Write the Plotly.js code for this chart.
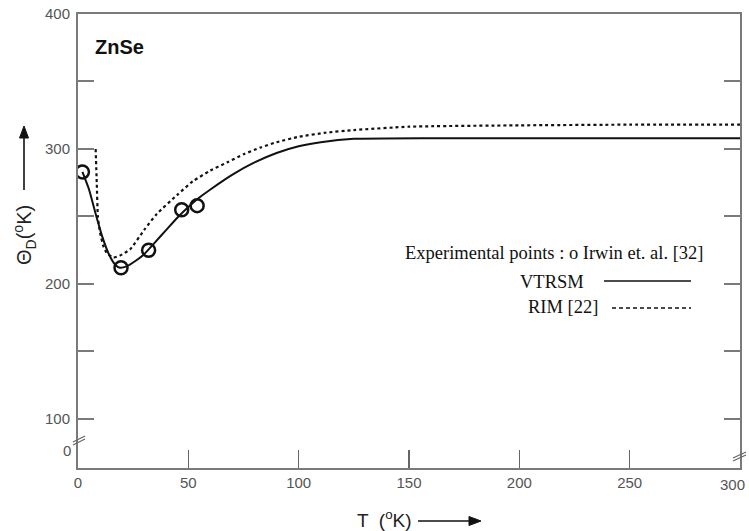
<!DOCTYPE html>
<html>
<head>
<meta charset="utf-8">
<script src="https://cdn.plot.ly/plotly-3.0.1.min.js"></script>
<style>html,body{margin:0;padding:0;background:#fff;}#chart{width:749px;height:531px;}</style>
</head>
<body>
<div id="chart"></div>
<script>
// Experimental points (Irwin et al.)
var expT = [2, 19.5, 32, 47, 54];
var expTheta = [283, 212, 225, 255, 258];

// VTRSM (solid)
var vtrsmT = [2, 5, 8, 11, 14, 17, 19, 22, 26, 30, 35, 40, 45, 50, 55, 60, 70, 80, 90, 100, 110, 125, 160, 200, 250, 300];
var vtrsmTheta = [283, 270, 252, 235, 222, 214, 212, 213, 217, 222, 231, 240, 249, 257, 264, 270, 281, 290, 297, 302, 305, 307.5, 308, 308, 308, 308];

// RIM [22] (dashed)
var rimT = [8, 8.5, 9, 10, 11.5, 13, 16, 19, 23.6, 30, 35.6, 45, 52, 60, 67.5, 75, 82.5, 90, 100, 112, 125, 150, 200, 250, 300];
var rimTheta = [300, 275, 250, 238, 228, 223, 219.5, 221, 225.6, 240, 251.7, 266, 276, 284, 290, 296, 301, 305, 309, 312, 314, 316.5, 317.5, 318, 318];

var xTickVals = [0, 50, 100, 150, 200, 250];
var xLastTick = 300;
var yTickVals = [100, 200, 300, 400];

var W = 749, H = 531, L = 78, R = 9, T = 14, B = 63;
var pw = W - L - R, ph = H - T - B;
function px(x) { return (x - L) / pw; }
function py(y) { return (H - B - y) / ph; }

var traces = [
  {x: vtrsmT, y: vtrsmTheta, mode: 'lines', line: {color: '#111', width: 2, shape: 'spline', smoothing: 0.5}, hoverinfo: 'skip'},
  {x: rimT, y: rimTheta, mode: 'lines', line: {color: '#111', width: 2.2, dash: '3px,3px', shape: 'spline', smoothing: 0.5}, hoverinfo: 'skip'},
  {x: expT, y: expTheta, mode: 'markers', marker: {symbol: 'circle-open', size: 13, color: '#111', line: {width: 2.5, color: '#111'}}, hoverinfo: 'skip'}
];

var axisCol = '#7a7a7a';
var tickFont = {family: 'Liberation Sans, Arial, sans-serif', size: 15, color: '#555'};
var serif = {family: 'Liberation Serif, Times New Roman, serif', size: 18.5, color: '#111'};
var layout = {
  width: W, height: H,
  margin: {l: L, r: R, t: T, b: B},
  paper_bgcolor: '#fff', plot_bgcolor: '#fff',
  showlegend: false,
  xaxis: {
    range: [0, 300], tickvals: xTickVals.concat([xLastTick]), ticktext: xTickVals.map(String).concat(['']),
    ticks: 'inside', ticklen: 18, tickwidth: 1.5, tickcolor: '#666',
    showline: true, linecolor: axisCol, linewidth: 2, mirror: true, showgrid: false, zeroline: false,
    tickfont: tickFont
  },
  yaxis: {
    range: [63.6, 400], tickvals: yTickVals, ticks: 'inside', ticklen: 16, tickwidth: 2, tickcolor: axisCol,
    minor: {tickvals: [150, 250, 350], ticks: 'inside', ticklen: 16, tickwidth: 2, tickcolor: axisCol},
    showline: true, linecolor: axisCol, linewidth: 2, mirror: 'ticks', showgrid: false, zeroline: false,
    ticklabelstandoff: 3,
    tickfont: tickFont
  },
  annotations: [
    {xref: 'x', yref: 'paper', x: xLastTick, y: py(484), xanchor: 'center', yanchor: 'middle', xshift: -8, showarrow: false,
     text: String(xLastTick), font: tickFont},
    {xref: 'paper', yref: 'paper', x: px(93), y: py(47), xanchor: 'left', yanchor: 'middle', showarrow: false,
     text: '<b>ZnSe</b>', font: {family: 'Liberation Sans, Arial, sans-serif', size: 20, color: '#111'}},
    {xref: 'paper', yref: 'paper', x: px(73), y: py(450), xanchor: 'right', yanchor: 'middle', showarrow: false,
     text: '0', font: tickFont},
    {xref: 'paper', yref: 'paper', x: px(554), y: py(253), xanchor: 'center', yanchor: 'middle', showarrow: false,
     text: 'Experimental points : o Irwin et. al. [32]', font: serif},
    {xref: 'paper', yref: 'paper', x: px(586), y: py(282), xanchor: 'right', yanchor: 'middle', showarrow: false,
     text: 'VTRSM', font: serif},
    {xref: 'paper', yref: 'paper', x: px(600), y: py(307), xanchor: 'right', yanchor: 'middle', showarrow: false,
     text: 'RIM [22]', font: serif},
    {xref: 'paper', yref: 'paper', x: px(24), y: py(235), xanchor: 'center', yanchor: 'middle', showarrow: false, textangle: -90,
     text: 'Θ<sub>D</sub>(<sup>o</sup>K)', font: {family: 'Liberation Sans, Arial, sans-serif', size: 20, color: '#222'}},
    {xref: 'paper', yref: 'paper', x: px(384), y: py(519), xanchor: 'center', yanchor: 'middle', showarrow: false,
     text: 'T  (<sup>o</sup>K)', font: {family: 'Liberation Sans, Arial, sans-serif', size: 19, color: '#222'}}
  ],
  shapes: [
    // y-title arrow
    {type: 'line', xref: 'paper', yref: 'paper', x0: px(24), x1: px(24), y0: py(190), y1: py(136), line: {color: '#111', width: 1.6}},
    {type: 'path', xref: 'paper', yref: 'paper', path: 'M' + px(19.5) + ',' + py(138) + ' L' + px(24) + ',' + py(126) + ' L' + px(28.5) + ',' + py(138) + ' Z', fillcolor: '#111', line: {color: '#111', width: 1}},
    // x-title arrow
    {type: 'line', xref: 'paper', yref: 'paper', x0: px(418), x1: px(471), y0: py(521), y1: py(521), line: {color: '#111', width: 1.6}},
    {type: 'path', xref: 'paper', yref: 'paper', path: 'M' + px(469) + ',' + py(516.5) + ' L' + px(481) + ',' + py(521) + ' L' + px(469) + ',' + py(525.5) + ' Z', fillcolor: '#111', line: {color: '#111', width: 1}},
    // legend samples
    {type: 'line', xref: 'paper', yref: 'paper', x0: px(604), x1: px(691), y0: py(281), y1: py(281), line: {color: '#111', width: 1.3}},
    {type: 'line', xref: 'paper', yref: 'paper', x0: px(612), x1: px(691), y0: py(308), y1: py(308), line: {color: '#111', width: 1.3, dash: '4px,3px'}},
    // axis break marks
    {type: 'line', xref: 'paper', yref: 'paper', x0: px(73), x1: px(85), y0: py(442), y1: py(436), line: {color: '#666', width: 1.2}},
    {type: 'line', xref: 'paper', yref: 'paper', x0: px(73), x1: px(85), y0: py(445), y1: py(439), line: {color: '#666', width: 1.2}},
    {type: 'line', xref: 'paper', yref: 'paper', x0: px(733), x1: px(746), y0: py(458), y1: py(452), line: {color: '#666', width: 1.2}},
    {type: 'line', xref: 'paper', yref: 'paper', x0: px(733), x1: px(746), y0: py(461), y1: py(455), line: {color: '#666', width: 1.2}}
  ]
};

Plotly.newPlot('chart', traces, layout, {displayModeBar: false, staticPlot: true});
</script>
</body>
</html>
